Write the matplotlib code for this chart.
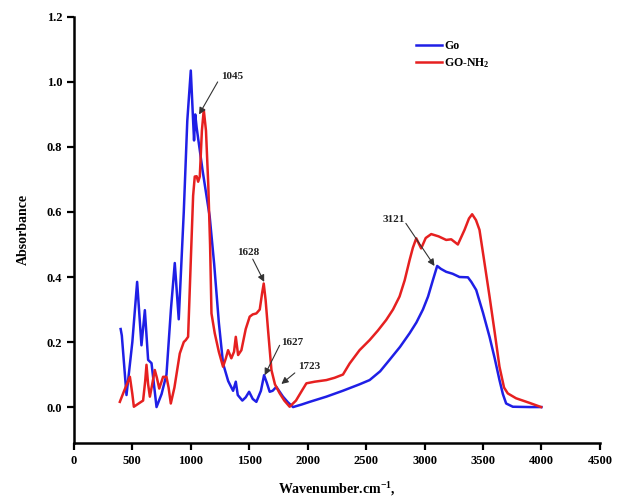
import matplotlib
matplotlib.use("Agg")
import matplotlib.pyplot as plt

plt.rcParams['font.family'] = ['Liberation Serif', 'DejaVu Serif']
plt.rcParams['font.weight'] = 'bold'
plt.rcParams['mathtext.fontset'] = 'custom'
plt.rcParams['mathtext.rm'] = 'Liberation Serif:bold'
plt.rcParams['mathtext.it'] = 'Liberation Serif:bold'
plt.rcParams['mathtext.bf'] = 'Liberation Serif:bold'

go_x = [400, 410, 450, 500, 541, 578, 607, 635, 664, 707, 750, 792, 830, 863, 897, 940, 970,
        1000, 1020, 1028, 1038, 1050, 1100, 1162, 1200, 1240, 1276, 1320, 1362, 1385, 1402,
        1441, 1470, 1499, 1530, 1561, 1600, 1627, 1650, 1675, 1700, 1732, 1789, 1830, 1875,
        1950, 2017, 2160, 2300, 2444, 2530, 2620, 2700, 2790, 2872, 2930, 2986, 3030, 3071,
        3108, 3140, 3185, 3240, 3299, 3371, 3400, 3442, 3500, 3556, 3600, 3641, 3670, 3698,
        3755, 3900, 4000]
go_y = [0.24, 0.22, 0.037, 0.20, 0.385, 0.19, 0.298, 0.145, 0.135, 0.0, 0.04, 0.10, 0.30, 0.443,
        0.27, 0.60, 0.88, 1.035, 0.88, 0.82, 0.90, 0.86, 0.73, 0.585, 0.44, 0.26, 0.134, 0.08,
        0.05, 0.078, 0.037, 0.02, 0.03, 0.047, 0.025, 0.016, 0.05, 0.098, 0.075, 0.047, 0.05,
        0.062, 0.032, 0.015, 0.0, 0.008, 0.016, 0.032, 0.05, 0.07, 0.083, 0.11, 0.145, 0.185,
        0.227, 0.26, 0.30, 0.34, 0.39, 0.434, 0.425, 0.416, 0.41, 0.40, 0.399, 0.385, 0.36,
        0.29, 0.216, 0.15, 0.083, 0.04, 0.011, 0.001, 0.0, 0.0]

nh2_x = [393, 430, 479, 500, 513, 550, 592, 610, 621, 635, 650, 670, 692, 710, 730, 763, 792,
         810, 829, 860, 906, 940, 957, 977, 1000, 1020, 1034, 1050, 1063, 1077, 1095, 1111,
         1130, 1150, 1165, 1177, 1205, 1240, 1276, 1300, 1319, 1347, 1370, 1385, 1405, 1433,
         1470, 1504, 1530, 1561, 1590, 1610, 1624, 1640, 1661, 1690, 1720, 1761, 1800, 1846,
         1900, 1950, 1989, 2060, 2160, 2230, 2302, 2359, 2444, 2530, 2600, 2672, 2730, 2786,
         2830, 2872, 2900, 2929, 2971, 3010, 3057, 3120, 3185, 3228, 3285, 3342, 3380, 3407,
         3440, 3470, 3510, 3556, 3600, 3641, 3680, 3712, 3783, 3840, 3897, 3997]
nh2_y = [0.016, 0.05, 0.093, 0.04, 0.001, 0.01, 0.02, 0.08, 0.13, 0.07, 0.032, 0.07, 0.114,
         0.09, 0.057, 0.093, 0.093, 0.06, 0.011, 0.06, 0.165, 0.20, 0.206, 0.216, 0.45, 0.65,
         0.709, 0.71, 0.693, 0.709, 0.85, 0.914, 0.85, 0.68, 0.50, 0.288, 0.227, 0.17, 0.124,
         0.15, 0.175, 0.15, 0.17, 0.216, 0.16, 0.175, 0.24, 0.278, 0.285, 0.288, 0.30, 0.35,
         0.38, 0.33, 0.237, 0.114, 0.07, 0.042, 0.02, 0.001, 0.02, 0.05, 0.073, 0.078, 0.083,
         0.09, 0.10, 0.134, 0.175, 0.206, 0.235, 0.268, 0.30, 0.34, 0.39, 0.452, 0.49, 0.519,
         0.488, 0.52, 0.532, 0.525, 0.514, 0.516, 0.50, 0.545, 0.58, 0.593, 0.575, 0.545, 0.45,
         0.34, 0.23, 0.124, 0.06, 0.042, 0.027, 0.02, 0.013, 0.0]

labels = ['Go', 'GO-NH$_2$']

ann_text = ['1045', '1628', '1627', '1723', '3121']
ann_xy = [(1071, 0.90), (1628, 0.385), (1632, 0.098), (1775, 0.071), (3085, 0.434)]
ann_tail = [(1230, 1.00), (1530, 0.455), (1760, 0.19), (1890, 0.105), (2840, 0.565)]
ann_text_pos = [(1260, 1.018), (1400, 0.474), (1770, 0.20), (1920, 0.126), (2640, 0.577)]

fig = plt.figure(figsize=(6.21, 4.97), dpi=100)
ax = fig.add_axes([0.119, 0.109, 0.847, 0.857])

ax.plot(go_x, go_y, color='#1f1fe6', lw=1.8, label=labels[0])
ax.plot(nh2_x, nh2_y, color='#e62020', lw=1.8, label=labels[1])

for t, xy, tail, tp in zip(ann_text, ann_xy, ann_tail, ann_text_pos):
    ax.annotate('', xy=xy, xytext=tail,
                arrowprops=dict(arrowstyle='-|>', color='#333333', lw=0.8,
                                mutation_scale=10, shrinkA=0, shrinkB=0))
    ax.text(tp[0], tp[1], t, fontsize=8, fontweight='bold', color='#222222',
            ha='left', va='center')

ax.set_xlim(0, 4500)
ax.set_ylim(-0.11, 1.2)
ax.set_xticks(range(0, 4501, 500))
ax.set_yticks([0.0, 0.2, 0.4, 0.6, 0.8, 1.0, 1.2])
ax.set_yticklabels(['0.0', '0.2', '0.4', '0.6', '0.8', '1.0', '1.2'])
ax.spines['top'].set_visible(False)
ax.spines['right'].set_visible(False)
ax.spines['left'].set_linewidth(1.8)
ax.spines['bottom'].set_linewidth(1.8)
ax.spines['left'].set_bounds(-0.11, 1.2)
ax.tick_params(direction='out', length=5, width=1.6, labelsize=9)
for lab in ax.get_xticklabels() + ax.get_yticklabels():
    lab.set_fontweight('bold')

ax.set_xlabel('Wavenumber.cm$^{-1}$,', fontsize=10, fontweight='bold', labelpad=10)
ax.set_ylabel('Absorbance', fontsize=10, fontweight='bold', labelpad=12)

leg = ax.legend(loc='upper left', bbox_to_anchor=(0.63, 0.97), frameon=False,
                fontsize=8.5, handlelength=2.2, handletextpad=0.2, labelspacing=0.3)
for t in leg.get_texts():
    t.set_fontweight('bold')

fig.savefig('out.png', dpi=100)
